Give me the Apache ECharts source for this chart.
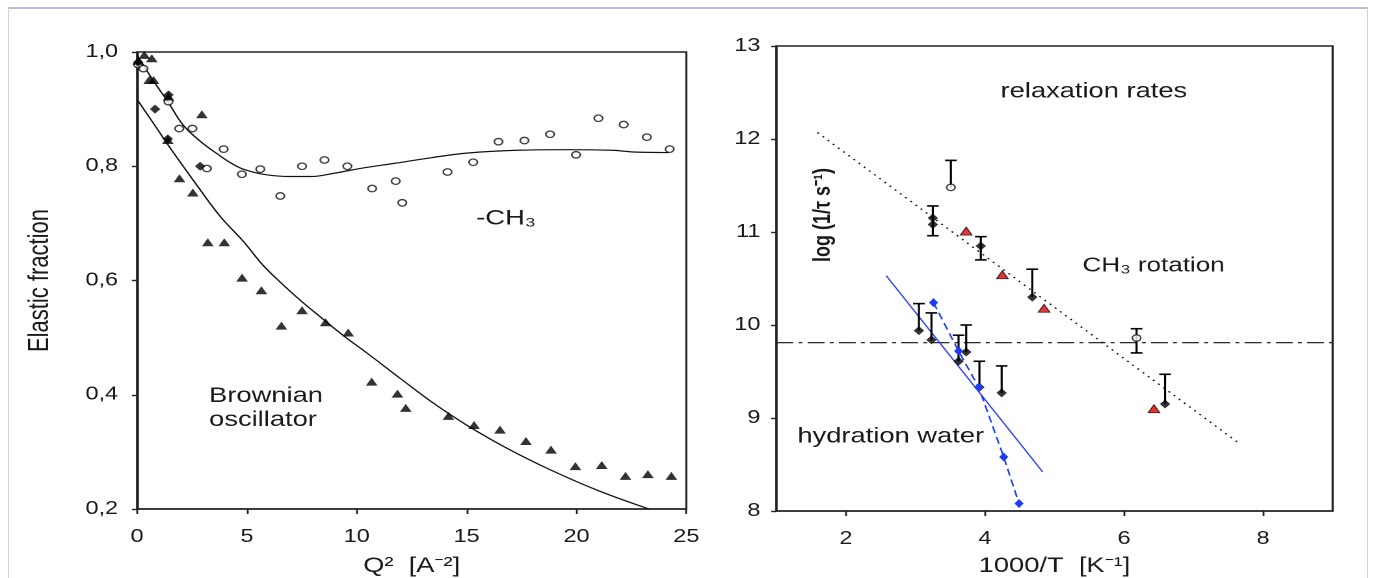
<!DOCTYPE html>
<html>
<head>
<meta charset="utf-8">
<script src="https://cdn.jsdelivr.net/npm/echarts@6/dist/echarts.min.js"></script>
<style>
html,body{margin:0;padding:0;background:#fff;width:1375px;height:578px;overflow:hidden;}
#frame{position:absolute;left:8px;top:7px;width:1358px;height:600px;border-top:2px solid #bcbce4;border-left:1px solid #d4d4d4;border-right:1px solid #d4d4d4;}
#chart{position:absolute;left:0;top:0;height:578px;transform-origin:0 0;}
</style>
</head>
<body>
<div id="frame"></div>
<div id="chart"></div>
<script>
// ---------- data ----------
// Left panel: elastic fraction vs Q^2
const leftTriangles = [[0.05,0.985],[0.33,0.995],[0.67,0.989],[0.55,0.951],[0.75,0.951],[1.43,0.922],[1.4,0.846],[2.95,0.891],[1.93,0.779],[2.54,0.754],[3.22,0.667],[3.97,0.667],[4.78,0.605],[5.66,0.583],[6.57,0.521],[7.51,0.548],[8.58,0.527],[9.61,0.509],[10.68,0.423],[11.85,0.402],[12.23,0.377],[14.17,0.363],[15.34,0.347],[16.52,0.339],[17.7,0.319],[18.84,0.304],[19.95,0.275],[21.15,0.277],[22.23,0.258],[23.25,0.261],[24.32,0.258]];
const leftCircles = [[0.05,0.978],[0.29,0.971],[1.43,0.913],[1.92,0.866],[2.52,0.866],[3.94,0.83],[3.18,0.796],[4.77,0.786],[5.61,0.795],[6.52,0.748],[7.51,0.80],[8.53,0.811],[9.57,0.80],[10.7,0.761],[11.77,0.774],[12.07,0.736],[14.13,0.79],[15.3,0.807],[16.45,0.843],[17.63,0.845],[18.8,0.856],[19.98,0.82],[21.0,0.884],[22.15,0.873],[23.2,0.851],[24.24,0.83]];
const leftDiamonds = [[0.05,0.982],[0.82,0.90],[1.43,0.925],[1.4,0.848],[2.87,0.80]];
const fitCH3 = [[0,0.995],[0.7,0.952],[1.4,0.913],[2.1,0.872],[2.9,0.843],[3.6,0.823],[4.3,0.805],[4.9,0.794],[5.9,0.785],[7.0,0.782],[7.9,0.782],[9.0,0.788],[10.3,0.797],[11.7,0.805],[13.4,0.815],[15.0,0.823],[17.3,0.828],[19.5,0.829],[21.6,0.828],[22.6,0.825],[24.2,0.824]];
const fitBrown = [[0,0.917],[0.8,0.872],[1.58,0.828],[2.7,0.768],[3.79,0.712],[4.85,0.668],[5.7,0.628],[6.52,0.597],[7.44,0.565],[8.35,0.536],[9.41,0.503],[10.5,0.472],[12.0,0.428],[13.5,0.385],[15.04,0.346],[16.9,0.305],[18.84,0.268],[21.0,0.232],[23.3,0.2]];

// Right panel: log(1/tau) vs 1000/T
const rDiamonds = [[3.25,11.15],[3.25,11.08],[3.94,10.85],[4.68,10.30],[3.05,9.94],[3.23,9.84],[3.62,9.61],[3.73,9.71],[3.92,9.33],[4.24,9.27],[6.59,9.15]];
const rErrUp = [[4.68,10.30,10.60],[3.05,9.94,10.23],[3.23,9.84,10.13],[3.62,9.61,9.89],[3.73,9.71,10.0],[3.92,9.33,9.61],[4.24,9.27,9.56],[6.59,9.15,9.47],[3.51,11.48,11.77]];
const rErrBoth = [[3.25,10.96,11.28],[3.94,10.70,10.95],[6.18,9.70,9.96]];
const rOpen = [[3.51,11.48],[6.18,9.86]];
const rRed = [[3.73,11.01],[4.25,10.54],[4.85,10.18],[6.43,9.10]];
const rBlue = [[3.26,10.24],[3.62,9.72],[3.91,9.33],[4.27,8.58],[4.49,8.08]];
const rBlueFit = [[2.58,10.53],[4.83,8.42]];
const rDotFit = [[1.59,12.07],[7.65,8.73]];
const rLevel = [[1,9.81],[9,9.81]];

const rightXTicks = [2,4,6,8];

// ---------- layout ----------
const S = 1.3; // the reference is stretched horizontally
const W = 1375 / S;
const X = v => v / S;
const chartDiv = document.getElementById('chart');
chartDiv.style.width = W + 'px';
chartDiv.style.transform = 'scaleX(' + S + ')';

const FONT = '"Liberation Sans", Arial, sans-serif';
const INK = '#1a1a1a';

function errRender(both) {
  return function (params, api) {
    const p0 = api.coord([api.value(0), api.value(1)]);
    const p1 = api.coord([api.value(0), api.value(2)]);
    const cw = 4.5;
    const st = {stroke: '#000', lineWidth: 1.6};
    const children = [
      {type: 'line', shape: {x1: p0[0], y1: p0[1], x2: p1[0], y2: p1[1]}, style: st},
      {type: 'line', shape: {x1: p1[0] - cw, y1: p1[1], x2: p1[0] + cw, y2: p1[1]}, style: st}
    ];
    if (both) children.push({type: 'line', shape: {x1: p0[0] - cw, y1: p0[1], x2: p0[0] + cw, y2: p0[1]}, style: st});
    return {type: 'group', children: children};
  };
}

const axisCommon = {
  axisLine: {show: true, lineStyle: {color: '#222', width: 1.6}},
  axisTick: {show: true, inside: false, length: 5, lineStyle: {color: '#222', width: 1.4}},
  splitLine: {show: false},
  axisLabel: {color: INK, fontFamily: FONT, fontSize: 18}
};
const nameStyle = {fontFamily: FONT, fontSize: 21, color: INK, verticalAlign: 'middle'};
const annot = {fontFamily: FONT, fontSize: 21, fill: INK};

const option = {
  animation: false,
  backgroundColor: 'transparent',
  grid: [
    {left: X(137), top: 52, width: X(686 - 137), height: 457, outerBoundsMode: 'none', containLabel: false, show: true, borderColor: '#222', borderWidth: 1.6, backgroundColor: 'transparent'},
    {left: X(776), top: 46, width: X(1332 - 776), height: 465, outerBoundsMode: 'none', containLabel: false, show: true, borderColor: '#222', borderWidth: 1.6, backgroundColor: 'transparent'}
  ],
  xAxis: [
    Object.assign({}, axisCommon, {
      gridIndex: 0, type: 'value', min: 0, max: 25, interval: 5,
      axisLabel: Object.assign({}, axisCommon.axisLabel, {margin: 19}),
      name: 'Q\u00B2  [A\u207B\u00B2]', nameLocation: 'middle', nameGap: 57, nameTextStyle: nameStyle
    }),
    Object.assign({}, axisCommon, {
      gridIndex: 1, type: 'value', min: 1, max: 9,
      axisTick: Object.assign({}, axisCommon.axisTick, {customValues: rightXTicks}),
      axisLabel: Object.assign({}, axisCommon.axisLabel, {margin: 19, customValues: rightXTicks}),
      name: '1000/T  [K\u207B\u00B9]', nameLocation: 'middle', nameGap: 55, nameTextStyle: nameStyle
    })
  ],
  yAxis: [
    Object.assign({}, axisCommon, {
      gridIndex: 0, type: 'value', min: 0.2, max: 1.0, interval: 0.2,
      axisTick: Object.assign({}, axisCommon.axisTick, {length: 4}),
      axisLabel: Object.assign({}, axisCommon.axisLabel, {margin: X(19), formatter: v => v.toFixed(1).replace('.', ',')}),
      name: 'Elastic fraction', nameLocation: 'middle', nameRotate: 90, nameGap: X(97),
      nameTextStyle: {fontFamily: FONT, fontSize: 22, color: INK, verticalAlign: 'middle'}
    }),
    Object.assign({}, axisCommon, {
      gridIndex: 1, type: 'value', min: 8, max: 13, interval: 1,
      axisTick: Object.assign({}, axisCommon.axisTick, {length: 4}),
      axisLabel: Object.assign({}, axisCommon.axisLabel, {margin: X(16)})
    })
  ],
  series: [
    // left panel
    {type: 'line', xAxisIndex: 0, yAxisIndex: 0, data: fitCH3, smooth: 0.4, showSymbol: false, lineStyle: {color: '#111', width: 1.2}, z: 2},
    {type: 'line', xAxisIndex: 0, yAxisIndex: 0, data: fitBrown, smooth: 0.4, showSymbol: false, lineStyle: {color: '#111', width: 1.2}, z: 2},
    {type: 'scatter', xAxisIndex: 0, yAxisIndex: 0, data: leftCircles, symbol: 'circle', symbolSize: 6.5, itemStyle: {color: '#fff', borderColor: '#111', borderWidth: 1.3}, z: 3},
    {type: 'scatter', xAxisIndex: 0, yAxisIndex: 0, data: leftDiamonds, symbol: 'diamond', symbolSize: [8, 9], itemStyle: {color: '#000'}, z: 4},
    {type: 'scatter', xAxisIndex: 0, yAxisIndex: 0, data: leftTriangles, symbol: 'triangle', symbolSize: [9, 8], itemStyle: {color: '#000'}, z: 4},
    // right panel
    {type: 'line', xAxisIndex: 1, yAxisIndex: 1, data: rLevel, showSymbol: false, lineStyle: {color: '#111', width: 1.1, type: [13, 4, 3, 4]}, z: 2},
    {type: 'line', xAxisIndex: 1, yAxisIndex: 1, data: rDotFit, showSymbol: false, lineStyle: {color: '#111', width: 1.3, type: [1.5, 4]}, z: 2},
    {type: 'line', xAxisIndex: 1, yAxisIndex: 1, data: rBlueFit, showSymbol: false, lineStyle: {color: '#2a3ff0', width: 1.1}, z: 2},
    {type: 'custom', xAxisIndex: 1, yAxisIndex: 1, data: rErrUp, renderItem: errRender(false), z: 3},
    {type: 'custom', xAxisIndex: 1, yAxisIndex: 1, data: rErrBoth, renderItem: errRender(true), z: 3},
    {type: 'scatter', xAxisIndex: 1, yAxisIndex: 1, data: rDiamonds, symbol: 'diamond', symbolSize: [8, 9], itemStyle: {color: '#000'}, z: 4},
    {type: 'scatter', xAxisIndex: 1, yAxisIndex: 1, data: rOpen, symbol: 'circle', symbolSize: 6.5, itemStyle: {color: '#fff', borderColor: '#111', borderWidth: 1.2}, z: 5},
    {type: 'scatter', xAxisIndex: 1, yAxisIndex: 1, data: rRed, symbol: 'triangle', symbolSize: [9, 8], itemStyle: {color: '#e00000', borderColor: '#000', borderWidth: 0.8}, z: 5},
    {type: 'line', xAxisIndex: 1, yAxisIndex: 1, data: rBlue, symbol: 'diamond', symbolSize: [7, 9], itemStyle: {color: '#1f3cf5'}, lineStyle: {color: '#1f3cf5', width: 1.3, type: [7, 4]}, z: 6}
  ],
  graphic: [
    {type: 'text', left: X(476), top: 208, style: Object.assign({text: '-CH\u2083'}, annot)},
    {type: 'text', left: X(209), top: 384, style: Object.assign({text: 'Brownian\noscillator', lineHeight: 24}, annot)},
    {type: 'text', left: X(1000), top: 81, style: Object.assign({text: 'relaxation rates'}, annot)},
    {type: 'text', left: X(1082), top: 256, style: Object.assign({text: 'CH\u2083 rotation'}, annot, {fontSize: 20})},
    {type: 'text', left: X(797), top: 426, style: Object.assign({text: 'hydration water'}, annot)},
    {type: 'text', x: X(823), y: 215, rotation: Math.PI / 2,
      style: {text: 'log (1/\u03C4 s\u207B\u00B9)', align: 'center', verticalAlign: 'middle', fontFamily: FONT, fontSize: 18, fontWeight: 'bold', fill: INK}}
  ]
};

const chart = echarts.init(chartDiv, null, {renderer: 'canvas', width: W, height: 578, devicePixelRatio: 2});
chart.setOption(option);
</script>
</body>
</html>
